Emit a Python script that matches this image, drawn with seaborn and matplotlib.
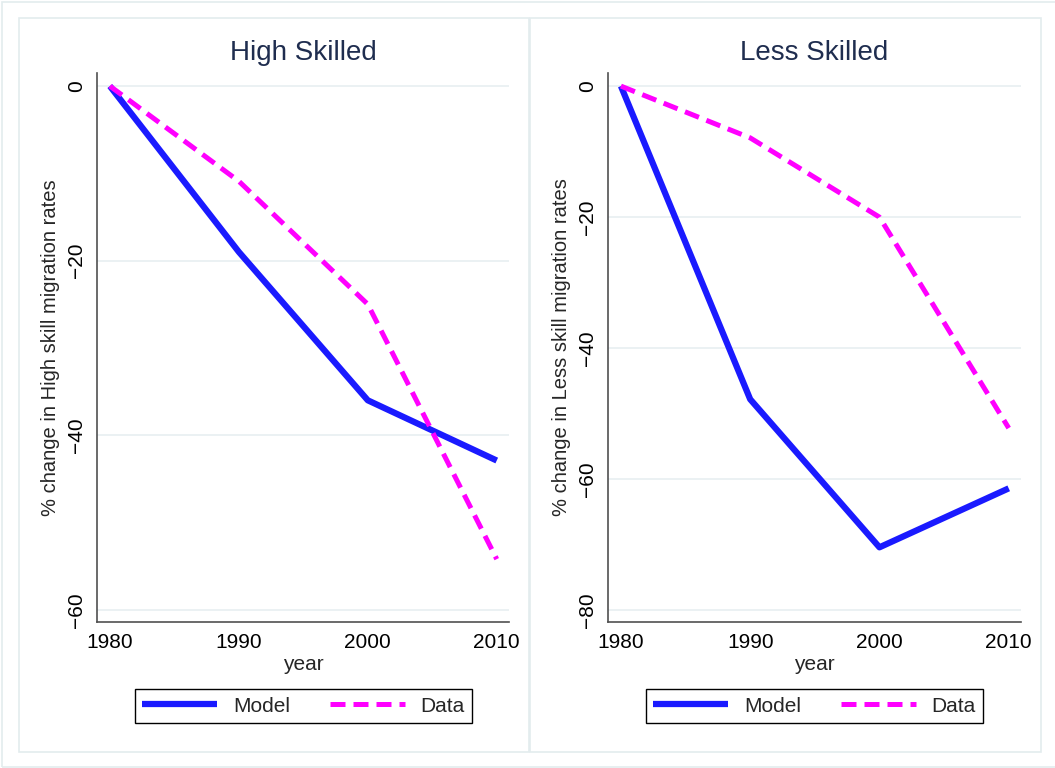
import matplotlib
matplotlib.use("Agg")
import matplotlib.pyplot as plt
from matplotlib.lines import Line2D
from matplotlib.patches import Rectangle
import seaborn as sns

# ---- data ----
years = [1980, 1990, 2000, 2010]
high_model = [0.0, -19.0, -36.0, -42.9]
high_data = [0.0, -10.9, -25.0, -54.2]
less_model = [0.0, -47.8, -70.4, -61.4]
less_data = [0.0, -7.9, -20.0, -52.2]

panel_titles = ["High Skilled", "Less Skilled"]
y_labels = ["% change in High skill migration rates",
            "% change in Less skill migration rates"]
high_yticks = [0, -20, -40, -60]
less_yticks = [0, -20, -40, -60, -80]
xticks = [1980, 1990, 2000, 2010]
series_names = ["Model", "Data"]

# ---- style ----
sns.set_style("white")
plt.rcParams["font.family"] = ["Liberation Sans", "DejaVu Sans"]

W, H = 1055, 768
fig = plt.figure(figsize=(W / 100, H / 100), dpi=100)
fig.patch.set_facecolor("white")

border = "#e3ecee"
grid_c = "#e9f0f2"
spine_c = "#505050"
title_c = "#1f2d4f"
model_c = "#1a1aff"
data_c = "#ff00ff"
dash = (0, (3.0, 1.6))
fs = 15


def px(x0, y0, x1, y1):
    return [x0 / W, 1 - y1 / H, (x1 - x0) / W, (y1 - y0) / H]


# outer frame and panel frames
fig.patches.append(Rectangle((2 / W, 1 - 767 / H), 1060 / W, 765 / H,
                             transform=fig.transFigure, fill=False,
                             edgecolor=border, lw=1.2, zorder=0))
for (x0, x1) in [(19, 529), (530, 1041)]:
    fig.patches.append(Rectangle((x0 / W, 1 - 752 / H), (x1 - x0) / W, (752 - 18) / H,
                                 transform=fig.transFigure, fill=False,
                                 edgecolor=border, lw=1.2, zorder=0))

panels = [
    dict(rect=px(97, 73, 509, 622), model=high_model, data=high_data,
         yticks=high_yticks, ylim=(-61.4, 1.5), title=panel_titles[0],
         ylabel=y_labels[0], cx=303),
    dict(rect=px(608, 73, 1021, 622), model=less_model, data=less_data,
         yticks=less_yticks, ylim=(-81.8, 2.0), title=panel_titles[1],
         ylabel=y_labels[1], cx=814),
]

for p in panels:
    ax = fig.add_axes(p["rect"])
    ax.set_facecolor("white")
    sns.lineplot(x=years, y=p["model"], ax=ax, color=model_c, linewidth=4.5,
                 label=series_names[0], legend=False, solid_capstyle="butt")
    sns.lineplot(x=years, y=p["data"], ax=ax, color=data_c, linewidth=3.6,
                 label=series_names[1], legend=False)
    ax.lines[-1].set_linestyle(dash)
    ax.lines[-1].set_dash_capstyle("butt")

    ax.set_xlim(1979.0, 2010.95)
    ax.set_ylim(*p["ylim"])
    ax.set_xticks(xticks)
    ax.set_yticks(p["yticks"])
    ax.set_yticklabels(["\u2212" + str(abs(v)) if v < 0 else str(v) for v in p["yticks"]])
    ax.yaxis.grid(True, color=grid_c, lw=1.3)
    ax.xaxis.grid(False)
    ax.set_axisbelow(True)
    for s in ["top", "right"]:
        ax.spines[s].set_visible(False)
    for s in ["left", "bottom"]:
        ax.spines[s].set_color(spine_c)
        ax.spines[s].set_linewidth(1.2)
    ax.tick_params(axis="both", direction="out", length=5, width=1.0,
                   color=spine_c, labelsize=fs, labelcolor="black", pad=3)
    ax.tick_params(axis="y", labelrotation=90)
    for lab in ax.get_yticklabels():
        lab.set_va("center")
    ax.set_xlabel("year", fontsize=fs, labelpad=2)
    ax.set_ylabel(p["ylabel"], fontsize=14.5, labelpad=5)

    fig.text(p["cx"] / W, 1 - 53 / H, p["title"], ha="center", va="center",
             fontsize=20, color=title_c)

    handles = [Line2D([], [], color=model_c, lw=4.5, solid_capstyle="butt"),
               Line2D([], [], color=data_c, lw=3.6, linestyle=dash, dash_capstyle="butt")]
    leg = ax.legend(handles, series_names, loc="center",
                    bbox_to_anchor=(p["cx"] / W + 0.5 / W, 1 - 706 / H),
                    bbox_transform=fig.transFigure, ncol=2, frameon=True,
                    fancybox=False, edgecolor="black", framealpha=1,
                    fontsize=fs, handlelength=3.6, handletextpad=0.75,
                    columnspacing=1.9, borderpad=0.38, borderaxespad=0)
    leg.get_frame().set_linewidth(1.0)

fig.savefig("out.png", dpi=100, facecolor="white")
